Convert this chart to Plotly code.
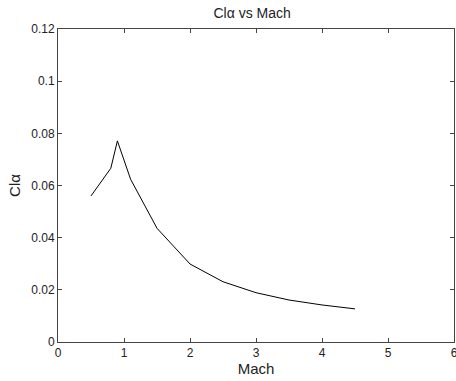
import plotly.graph_objects as go

mach = [0.5, 0.8, 0.9, 1.1, 1.5, 2.0, 2.5, 3.0, 3.5, 4.0, 4.5]
cl_alpha = [0.0560, 0.0666, 0.0771, 0.0624, 0.0436, 0.0299, 0.0231, 0.0189, 0.0161, 0.0142, 0.0127]

x_ticks = [0, 1, 2, 3, 4, 5, 6]
y_ticks = [0, 0.02, 0.04, 0.06, 0.08, 0.1, 0.12]
y_tick_labels = ["0", "0.02", "0.04", "0.06", "0.08", "0.1", "0.12"]

fam = "Liberation Sans, Arial"
tick_font = dict(family=fam, size=12, color="#222222")
title_font = dict(family=fam, size=14, color="#222222")
label_font = dict(family=fam, size=15, color="#222222")

fig = go.Figure()
fig.add_trace(go.Scatter(x=mach, y=cl_alpha, mode="lines",
                         line=dict(color="black", width=1), showlegend=False))

axis_common = dict(showline=True, linecolor="#444444", linewidth=1, mirror="ticks",
                   ticks="inside", ticklen=4, tickcolor="#444444", showgrid=False,
                   zeroline=False, automargin=False, tickfont=tick_font,
                   ticklabeloverflow="allow")

fig.update_layout(
    width=456, height=381,
    margin=dict(l=58, r=2, t=29, b=39),
    paper_bgcolor="white", plot_bgcolor="white",
    title=dict(text="Clα vs Mach", x=0.553, xanchor="center", y=0.965, yanchor="middle",
               font=title_font),
    xaxis=dict(range=[0, 6], tickvals=x_ticks, title=dict(text="Mach", standoff=4, font=label_font),
               **axis_common),
    yaxis=dict(range=[0, 0.12], tickvals=y_ticks, ticktext=y_tick_labels,
               title=dict(text="Clα", standoff=6, font=label_font), **axis_common),
)

fig.write_html("out.html", config={"displayModeBar": False},
               post_script="document.body.style.margin='0';document.body.style.overflow='hidden';")
